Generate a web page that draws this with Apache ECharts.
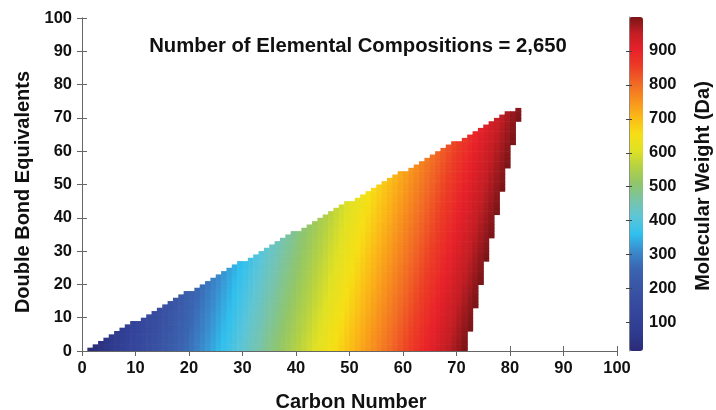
<!DOCTYPE html>
<html><head><meta charset="utf-8">
<script src="https://cdn.jsdelivr.net/npm/echarts@6/dist/echarts.min.js"></script>
<style>html,body{margin:0;padding:0;background:#fff}#c{width:716px;height:410px}</style>
</head><body><div id="c"></div>
<script>
// ---- data ----
const carbonTicks = [0,10,20,30,40,50,60,70,80,90,100];
const dbeTicks = [0,10,20,30,40,50,60,70,80,90,100];
const mwTicks = [100,200,300,400,500,600,700,800,900];
// carbon columns present (C1..C81)
const carbonNumbers = [1,2,3,4,5,6,7,8,9,10,11,12,13,14,15,16,17,18,19,20,21,22,23,24,25,26,27,28,29,30,
  31,32,33,34,35,36,37,38,39,40,41,42,43,44,45,46,47,48,49,50,51,52,53,54,55,56,57,58,59,60,
  61,62,63,64,65,66,67,68,69,70,71,72,73,74,75,76,77,78,79,80,81];
// highest DBE in each carbon column (upper staircase)
const dbeMaxByCarbon = [0,1,2,3,4,5,6,7,8,
  8,9,10,11,12,13,14,15,16,17,
  17,18,19,20,21,22,23,24,25,26,
  26,27,28,29,30,31,32,33,34,35,
  35,36,37,38,39,40,41,42,43,44,
  44,45,46,47,48,49,50,51,52,53,
  53,54,55,56,57,58,59,60,61,62,
  62,63,64,65,66,67,68,69,70,71,
  71,72];
// highest carbon number in each DBE row, DBE 0..72 (right staircase, MW limit)
const carbonMaxByDbe = [71,71,71,71,71,71,
  72,72,72,72,72,72,72,
  73,73,73,73,73,73,73,
  74,74,74,74,74,74,74,
  75,75,75,75,75,75,75,
  76,76,76,76,76,76,76,
  77,77,77,77,77,77,77,
  78,78,78,78,78,78,78,
  79,79,79,79,79,79,79,
  80,80,80,80,80,80,80,
  81,81,81,81];
const compositionLabel = 'Number of Elemental Compositions = 2,650';
// atomic masses used for the colour (molecular weight of CcH(2c+2-2d))
const massC = 12.011, massH = 1.008;

const cells = [];
carbonNumbers.forEach(function (c, i) {
  for (let d = 0; d <= dbeMaxByCarbon[i]; d++) {
    if (c <= carbonMaxByDbe[d]) {
      const h = 2 * c + 2 - 2 * d;
      cells.push([c, d, massC * c + massH * h]);
    }
  }
});

const palette = ['#2b2b77','#2f3a8c','#334399','#374c9f','#3a57a6','#3a66b2','#3a8ccd','#30c0ee',
  '#5cc5d8','#78c4aa','#8fc56c','#b3d144','#e0e124','#f6df15','#fbb917','#f7911d','#f16a25',
  '#ec3e25','#e8212a','#c41e24','#7b1518'];

const FONT = '"Liberation Sans", Arial, Helvetica, sans-serif';
const AX = '#666';
const lbl = {fontFamily: FONT, fontWeight: 'bold', fontSize: 16.5, color: '#111'};

const chart = echarts.init(document.getElementById('c'), null, {renderer: 'canvas'});
chart.setOption({
  animation: false,
  backgroundColor: '#fff',
  grid: [
    {left: 82, top: 18, width: 535, height: 333},
    {left: 629, top: 17, width: 14, height: 334}
  ],
  xAxis: [
    {type: 'value', gridIndex: 0, min: 0, max: 100, interval: 10, position: 'bottom',
     axisLine: {lineStyle: {color: AX, width: 1}}, axisTick: {inside: false, length: 5, lineStyle: {color: AX}},
     splitLine: {show: false}, axisLabel: Object.assign({margin: 9}, lbl)},
    {type: 'value', gridIndex: 0, min: 0, max: 100, interval: 10, position: 'top',
     axisLine: {lineStyle: {color: AX, width: 1}}, axisTick: {inside: false, length: 5, lineStyle: {color: AX}},
     splitLine: {show: false}, axisLabel: {show: false}},
    {type: 'value', gridIndex: 1, min: 0, max: 1, show: false}
  ],
  yAxis: [
    {type: 'value', gridIndex: 0, min: 0, max: 100, interval: 10, position: 'left',
     axisLine: {lineStyle: {color: AX, width: 1}}, axisTick: {inside: false, length: 5, lineStyle: {color: AX}},
     splitLine: {show: false}, axisLabel: Object.assign({margin: 10}, lbl)},
    {type: 'value', gridIndex: 0, min: 0, max: 100, interval: 10, position: 'right',
     axisLine: {lineStyle: {color: AX, width: 1}}, axisTick: {inside: false, length: 5, lineStyle: {color: AX}},
     splitLine: {show: false}, axisLabel: {show: false}},
    {type: 'value', gridIndex: 1, min: 16, max: 1000, position: 'right', z: 10,
     axisLine: {show: true, lineStyle: {color: '#888', width: 0.6}}, splitLine: {show: false},
     axisTick: {inside: true, length: 3, customValues: mwTicks, lineStyle: {color: '#444'}},
     axisLabel: Object.assign({margin: 6, customValues: mwTicks}, lbl)},
    {type: 'value', gridIndex: 1, min: 16, max: 1000, position: 'left', z: 10,
     axisLine: {show: true, lineStyle: {color: '#888', width: 0.6}}, splitLine: {show: false},
     axisTick: {inside: true, length: 3, customValues: mwTicks, lineStyle: {color: '#444'}},
     axisLabel: {show: false}}
  ],
  visualMap: {
    type: 'continuous', min: 16, max: 1000, dimension: 2, seriesIndex: 0,
    calculable: false, orient: 'vertical', left: 629, top: 17, padding: 0,
    itemWidth: 14, itemHeight: 334, text: null,
    inRange: {color: palette}
  },
  series: [{
    type: 'custom', xAxisIndex: 0, yAxisIndex: 0, clip: true,
    data: cells,
    encode: {x: 0, y: 1},
    renderItem: function (params, api) {
      const c = api.value(0), d = api.value(1);
      const p0 = api.coord([c, d + 1]);
      const p1 = api.coord([c + 1, d]);
      return {type: 'rect',
        shape: {x: p0[0], y: p0[1], width: p1[0] - p0[0] + 0.6, height: p1[1] - p0[1] + 0.6},
        style: {fill: api.visual('color')}};
    }
  }],
  graphic: [
    {type: 'text', x: 358, y: 46, style: {text: compositionLabel, font: 'bold 20.3px ' + FONT, fill: '#111', textAlign: 'center', textVerticalAlign: 'middle', verticalAlign: 'middle'}},
    {type: 'text', x: 351, y: 402, style: {text: 'Carbon Number', font: 'bold 20px ' + FONT, fill: '#111', textAlign: 'center', textVerticalAlign: 'middle', verticalAlign: 'middle'}},
    {type: 'text', x: 23, y: 192, rotation: Math.PI / 2, style: {text: 'Double Bond Equivalents', font: 'bold 20px ' + FONT, fill: '#111', textAlign: 'center', textVerticalAlign: 'middle', verticalAlign: 'middle'}},
    {type: 'text', x: 703, y: 186, rotation: Math.PI / 2, style: {text: 'Molecular Weight (Da)', font: 'bold 20px ' + FONT, fill: '#111', textAlign: 'center', textVerticalAlign: 'middle', verticalAlign: 'middle'}}
  ]
});
</script>
</body></html>
